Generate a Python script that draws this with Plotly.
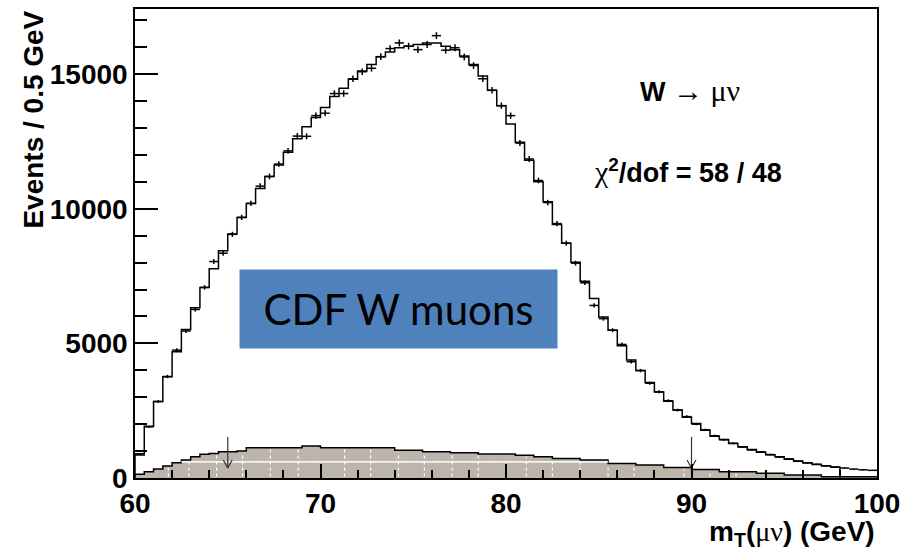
import numpy as np
import plotly.graph_objects as go

# ---------------- data ----------------
bin_lo = 60.0
bin_width = 0.5

# simulated W -> mu nu template (histogram line), bins from 60 to 98 GeV
model = [850, 1920, 2840, 3760, 4690, 5520, 6320, 7080, 7770, 8440,
         9060, 9680, 10200, 10750, 11200, 11630, 12100, 12600, 13050, 13390,
         13760, 14170, 14480, 14810, 15120, 15360, 15650, 15820, 15980, 16040,
         16100, 16160, 16160, 16040, 15910, 15670, 15360, 14930, 14400, 13830,
         13150, 12470, 11800, 11000, 10260, 9420, 8720, 8010, 7310, 6670,
         5980, 5490, 4910, 4380, 3990, 3550, 3190, 2850, 2530, 2260,
         2020, 1770, 1550, 1430, 1280, 1160, 1060, 960, 860, 790,
         700, 630, 570, 500, 455, 405]

# data points (crosses), bins from 60 to 100 GeV
data = [900, 1900, 2840, 3770, 4750, 5460, 6260, 7080, 8040, 8350,
        9050, 9680, 10200, 10840, 11200, 11660, 12150, 12700, 12690, 13460,
        13550, 14280, 14280, 14830, 15090, 15220, 15650, 15950, 16160, 16040,
        15910, 16100, 16430, 15890, 15980, 15640, 15320, 14830, 14400, 13830,
        13460, 12440, 11850, 11050, 10230, 9450, 8720, 7980, 7250, 6410,
        5920, 5490, 4960, 4320, 3990, 3520, 3200, 2870, 2520, 2280,
        2000, 1790, 1570, 1420, 1290, 1150, 1040, 970, 870, 780,
        710, 620, 560, 510, 450, 400, 370, 330, 305, 285]

# background (filled histogram), bins from 60 to 100 GeV
background = [135, 234, 332, 443, 566, 664, 787, 886, 910, 972,
              972, 1000, 1120, 1120, 1120, 1120, 1120, 1120, 1190, 1190,
              1120, 1120, 1120, 1120, 1120, 1120, 1120, 1120, 1030, 1030,
              1030, 972, 972, 972, 935, 935, 935, 895, 895, 895,
              895, 849, 849, 787, 787, 726, 726, 726, 664, 664,
              664, 541, 541, 541, 480, 480, 480, 394, 394, 394,
              320, 320, 320, 234, 234, 234, 234, 172, 172, 172,
              111, 111, 111, 111, 49, 49, 49, 49, 49, 49]

fit_range = [65, 90]
x_ticks = [60, 70, 80, 90, 100]
y_ticks = [0, 5000, 10000, 15000]

# ---------------- styles ----------------
FILL = "#bdb4ab"
SANS = "Liberation Sans"
SERIF = "Liberation Serif"
GRID_Y = 600          # faint white line visible inside the fill
ARTIFACT_X = [61.8, 62.9, 64.4, 65.8, 67.3, 68.8, 71.3, 72.7, 74.2, 75.6,
              77.1, 78.5, 81.1, 82.5, 84.0, 85.5, 86.9, 89.6, 91.0, 92.4]
ARROW_TIP, ARROW_TAIL = 370, 1525
HEAD_DX, HEAD_DY = 0.24, 300

n = len(data)
edges = bin_lo + bin_width * np.arange(n + 1)
centers = edges[:-1] + bin_width / 2

fig = go.Figure()

# background fill
fig.add_trace(go.Scatter(
    x=list(edges), y=background + [background[-1]],
    mode="lines", line=dict(shape="hv", color="black", width=1.5),
    fill="tozeroy", fillcolor=FILL, hoverinfo="skip", showlegend=False))

# white artefact lines inside the fill
hx, hy = [], []
for i, b in enumerate(background):
    if b > GRID_Y:
        hx += [edges[i], edges[i + 1], None]
        hy += [GRID_Y, GRID_Y, None]
fig.add_trace(go.Scatter(x=hx, y=hy, mode="lines",
                         line=dict(color="white", width=1.5),
                         hoverinfo="skip", showlegend=False))
vx, vy = [], []
for xv in ARTIFACT_X:
    idx = int((xv - bin_lo) / bin_width)
    vx += [xv, xv, None]
    vy += [60, background[idx] - 60, None]
fig.add_trace(go.Scatter(x=vx, y=vy, mode="lines",
                         line=dict(color="white", width=1.2, dash="dot"),
                         hoverinfo="skip", showlegend=False))

# model histogram line
nm = len(model)
xm = [edges[0]] + list(edges[:nm + 1]) + [edges[nm]]
ym = [0] + model + [model[-1]] + [0]
fig.add_trace(go.Scatter(x=xm, y=ym, mode="lines",
                         line=dict(shape="hv", color="black", width=1.5),
                         hoverinfo="skip", showlegend=False))

# data crosses
fig.add_trace(go.Scatter(
    x=centers, y=data, mode="markers",
    marker=dict(size=1, color="black"),
    error_x=dict(type="constant", value=bin_width / 2, color="black",
                 thickness=1.5, width=0),
    error_y=dict(type="data", array=list(np.sqrt(np.array(data))), color="black",
                 thickness=1.5, width=0),
    showlegend=False))

# fit-range arrows (shaft + open V head)
ax_, ay_ = [], []
for fx in fit_range:
    ax_ += [fx, fx, None, fx - HEAD_DX, fx, fx + HEAD_DX, None]
    ay_ += [ARROW_TAIL, ARROW_TIP, None, ARROW_TIP + HEAD_DY, ARROW_TIP,
            ARROW_TIP + HEAD_DY, None]
fig.add_trace(go.Scatter(x=ax_, y=ay_, mode="lines",
                         line=dict(color="#333333", width=1.2),
                         hoverinfo="skip", showlegend=False))

annotations = [
    dict(xref="paper", yref="paper", x=0.748, y=0.826, xanchor="center", yanchor="middle",
         text=f"<b>W</b> <span style='font-family:{SERIF};font-size:30px'>→ μν</span>",
         showarrow=False, font=dict(family=SANS, size=27, color="black")),
    dict(xref="paper", yref="paper", x=0.745, y=0.654, xanchor="center", yanchor="middle",
         text=f"<span style='font-family:{SERIF};font-size:30px'>χ</span><sup><b>2</b></sup><b>/dof = 58 / 48</b>",
         showarrow=False, font=dict(family=SANS, size=27, color="black")),
    dict(xref="paper", yref="paper", x=0.355, y=0.361, xanchor="center", yanchor="middle",
         text="CDF W muons", showarrow=False, bgcolor="#4f81bd",
         width=317, height=78, borderpad=0,
         font=dict(family="Lato", size=42, color="black")),
    dict(xref="paper", yref="paper", x=-0.138, y=1.0, xanchor="center", yanchor="top",
         text="<b>Events / 0.5 GeV</b>", textangle=-90, showarrow=False,
         font=dict(family=SANS, size=28, color="black")),
    dict(xref="paper", yref="paper", x=1.0, y=-0.118, xanchor="right", yanchor="middle",
         text=f"<b>m<sub>T</sub>(</b><span style='font-family:{SERIF}'>μν</span><b>) (GeV)</b>",
         showarrow=False, font=dict(family=SANS, size=28, color="black")),
]

fig.update_layout(
    width=910, height=551,
    margin=dict(l=135, r=33, t=7, b=73),
    paper_bgcolor="white", plot_bgcolor="white",
    annotations=annotations,
    xaxis=dict(range=[60, 100], tickvals=x_ticks, ticktext=[str(v) for v in x_ticks],
               ticks="inside", ticklen=14,
               tickwidth=1.5, tickcolor="black", showline=True, linewidth=1.5,
               linecolor="black", mirror=True, showgrid=False, zeroline=False,
               tickfont=dict(family=SANS, size=28, color="black", weight="bold"),
               minor=dict(dtick=2, tick0=60, ticks="inside", ticklen=8,
                          tickwidth=1.5, tickcolor="black", showgrid=False)),
    yaxis=dict(range=[0, 17420], tickvals=y_ticks, ticktext=[str(v) for v in y_ticks],
               ticks="inside", ticklen=23,
               tickwidth=1.5, tickcolor="black", showline=True, linewidth=1.5,
               linecolor="black", mirror=True, showgrid=False, zeroline=False,
               tickfont=dict(family=SANS, size=28, color="black", weight="bold"),
               minor=dict(dtick=1000, tick0=0, ticks="inside", ticklen=12,
                          tickwidth=1.5, tickcolor="black", showgrid=False)),
)

fig.write_html("out.html")
